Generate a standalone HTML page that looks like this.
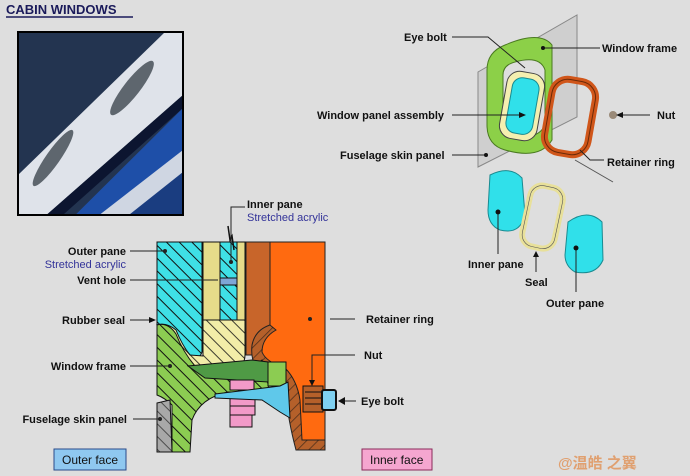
<!DOCTYPE html>
<html><head><meta charset="utf-8"><style>
body{margin:0;background:#dedede;}
svg{display:block}
text{font-family:"Liberation Sans",Arial,sans-serif;font-size:11px;font-weight:bold;fill:#111;}
.b{fill:#333399;font-weight:normal}
</style></head><body>
<svg width="690" height="476" viewBox="0 0 690 476" xmlns="http://www.w3.org/2000/svg">
<defs>
<pattern id="h" width="9" height="9" patternUnits="userSpaceOnUse" patternTransform="rotate(-45)"><line x1="0" y1="0" x2="0" y2="9" stroke="#111" stroke-width="2"/></pattern>
<pattern id="h2" width="8" height="8" patternUnits="userSpaceOnUse" patternTransform="rotate(45)"><line x1="0" y1="0" x2="0" y2="8" stroke="#111" stroke-width="1.6"/></pattern>
<clipPath id="ph"><rect x="18" y="32" width="165" height="183"/></clipPath>
</defs>
<rect width="690" height="476" fill="#dedede"/>
<text x="6" y="14" style="font-size:13px;fill:#1a1a5a">CABIN WINDOWS</text>
<line x1="6" y1="17" x2="133" y2="17" stroke="#1a1a5a" stroke-width="1.5"/>
<!-- photo -->
<g clip-path="url(#ph)">
<rect x="18" y="32" width="165" height="183" fill="#233450"/>
<polygon points="18,175 165,32 183,32 183,95 18,240" fill="#dfe3ea"/>
<polygon points="18,240 183,95 183,108 18,255" fill="#0c1530"/>
<polygon points="30,260 183,108 183,150 60,260" fill="#1e4fa8"/>
<polygon points="80,230 183,150 183,172 120,230" fill="#cfd6e2"/>
<polygon points="110,230 183,172 183,230" fill="#1a3d80"/>
<ellipse cx="132" cy="88" rx="34" ry="8" transform="rotate(-52 132 88)" fill="#5e666e"/>
<ellipse cx="53" cy="158" rx="34" ry="7" transform="rotate(-55 53 158)" fill="#5e666e"/>
</g>
<rect x="18" y="32" width="165" height="183" fill="none" stroke="#000" stroke-width="2"/>

<!-- cross section -->
<path d="M246,242 L270,242 L270,330 L262,330 Q252,335 252,355 L246,355Z" fill="#c8652a" stroke="#222"/>
<path d="M270,242 L325,242 L325,447 L300,445 Q292,410 292,390 Q285,370 265,365 Q252,355 262,335 Q268,325 270,325Z" fill="#ff6a10" stroke="#222"/>
<path d="M252,345 Q255,330 270,325 L276,330 Q262,338 262,352 Q266,362 285,368 Q297,380 300,400 L302,440 L325,440 L325,450 L296,450 Q288,420 286,395 Q280,378 262,372 Q250,365 252,345Z" fill="#b5602a" stroke="#222"/>
<path d="M252,345 Q255,330 270,325 L276,330 Q262,338 262,352 Q266,362 285,368 Q297,380 300,400 L302,440 L325,440 L325,450 L296,450 Q288,420 286,395 Q280,378 262,372 Q250,365 252,345Z" fill="url(#h2)" opacity="0.6"/>
<path d="M157,242 L202,242 L202,352 Q200,358 195,358 L185,358 Q175,358 172,348 L157,340Z" fill="#3fe0e6" stroke="#111"/>
<path d="M157,242 L202,242 L202,352 Q200,358 195,358 L185,358 Q175,358 172,348 L157,340Z" fill="url(#h)"/>
<rect x="203" y="242" width="17" height="78" fill="#e6dc8a" stroke="#111"/>
<path d="M220,242 L237,242 L237,350 Q237,356 230,356 Q220,356 220,350Z" fill="#3fe0e6" stroke="#111"/>
<path d="M220,242 L237,242 L237,350 Q237,356 230,356 Q220,356 220,350Z" fill="url(#h)"/>
<rect x="220" y="278" width="17" height="7" fill="#7fa6d6" stroke="#111"/>
<rect x="237" y="242" width="8" height="110" fill="#e6dc8a" stroke="#111"/>
<path d="M203,320 L245,320 L245,355 Q245,368 230,370 L190,370 Q176,366 170,345 Q162,330 157,325 Q166,322 176,330 Q182,345 190,355 L203,356Z" fill="#f2eda8" stroke="#111"/>
<path d="M203,320 L245,320 L245,355 Q245,368 230,370 L190,370 Q176,366 170,345 Q162,330 157,325 Q166,322 176,330 Q182,345 190,355 L203,356Z" fill="url(#h)" opacity="0.8"/>
<path d="M157,325 Q168,322 176,334 Q183,352 195,366 L250,368 L262,360 L270,392 L228,392 Q200,398 192,420 L190,452 L172,452 L172,405 Q165,398 157,395Z" fill="#8ccc52" stroke="#111"/>
<path d="M157,325 Q168,322 176,334 Q183,352 195,366 L250,368 L262,360 L270,392 L228,392 Q200,398 192,420 L190,452 L172,452 L172,405 Q165,398 157,395Z" fill="url(#h)"/>
<path d="M188,366 L252,360 L268,362 L268,382 L205,378Z" fill="#4f9a45" stroke="#111"/>
<rect x="268" y="362" width="18" height="24" fill="#8ccc52" stroke="#111"/>
<path d="M157,403 L170,400 L172,452 L157,452Z" fill="#a8a8a8" stroke="#111"/>
<path d="M157,403 L170,400 L172,452 L157,452Z" fill="url(#h)" opacity="0.6"/>
<rect x="230" y="380" width="24" height="10" fill="#f29ac8" stroke="#111"/>
<rect x="230" y="398" width="25" height="8" fill="#f29ac8" stroke="#111"/>
<rect x="230" y="406" width="25" height="9" fill="#f29ac8" stroke="#111"/>
<rect x="230" y="415" width="22" height="12" fill="#f29ac8" stroke="#111"/>
<path d="M215,394 L280,386 L288,382 L290,418 L280,412 L262,400 L215,398Z" fill="#5fc8ea" stroke="#111"/>
<rect x="303" y="386" width="20" height="26" fill="#b5602a" stroke="#111"/>
<g stroke="#111"><line x1="305" y1="392" x2="321" y2="392"/><line x1="305" y1="398" x2="321" y2="398"/><line x1="305" y1="404" x2="321" y2="404"/></g>
<rect x="322" y="390" width="14" height="20" rx="2" fill="#7fd0f0" stroke="#111" stroke-width="2"/>
<polyline points="228,226 230,240 232,236 234,250" fill="none" stroke="#111" stroke-width="1.5"/>

<!-- left labels -->
<g stroke="#222" stroke-width="1" fill="none">
<line x1="130" y1="251" x2="165" y2="251"/><line x1="130" y1="280" x2="218" y2="280"/>
<line x1="130" y1="320" x2="150" y2="320"/><line x1="130" y1="366" x2="170" y2="366"/>
<line x1="133" y1="419" x2="160" y2="419"/><polyline points="245,207 231,207 231,262"/>
<line x1="330" y1="319" x2="355" y2="319"/><polyline points="355,355 312,355 312,382"/>
<line x1="342" y1="401" x2="356" y2="401"/>
</g>
<g fill="#111"><polygon points="156,320 149,317 149,323"/><polygon points="312,386 309,380 315,380"/><polygon points="338,401 345,397 345,405"/></g>
<g fill="#222"><circle cx="165" cy="251" r="2"/><circle cx="231" cy="262" r="2"/><circle cx="170" cy="366" r="2"/><circle cx="160" cy="419" r="2"/><circle cx="310" cy="319" r="2"/></g>
<text x="247" y="208">Inner pane</text><text x="247" y="221" class="b">Stretched acrylic</text>
<text x="126" y="255" text-anchor="end">Outer pane</text><text x="126" y="268" text-anchor="end" class="b">Stretched acrylic</text>
<text x="126" y="284" text-anchor="end">Vent hole</text>
<text x="125" y="324" text-anchor="end">Rubber seal</text>
<text x="126" y="370" text-anchor="end">Window frame</text>
<text x="127" y="423" text-anchor="end">Fuselage skin panel</text>
<text x="366" y="323">Retainer ring</text><text x="364" y="359">Nut</text><text x="361" y="405">Eye bolt</text>
<rect x="54" y="449" width="72" height="21" fill="#8fc8f0" stroke="#2a4a8a"/><text x="62" y="464" style="font-weight:normal;font-size:12px">Outer face</text>
<rect x="362" y="449" width="70" height="21" fill="#f5a6d0" stroke="#8a2a5a"/><text x="370" y="464" style="font-weight:normal;font-size:12px">Inner face</text>
<text x="558" y="468" style="font-size:15px;fill:#e0a070;font-weight:bold;font-family:'Liberation Sans','Noto Sans CJK SC',sans-serif">@温皓 之翼</text>

<!-- exploded view -->
<polygon points="478,72 577,15 577,117 478,167" fill="#cfcfcf" stroke="#888"/>
<path d="M505,45 Q540,30 552,45 L552,140 Q540,160 505,150 Q487,145 487,125 L487,70 Q487,52 505,45Z" fill="#8cd048" stroke="#4a7a20"/>
<path d="M515,62 Q540,55 545,70 L545,125 Q538,140 515,135 Q503,130 503,118 L503,75 Q503,65 515,62Z" fill="#dedede" stroke="#4a7a20"/>
<rect x="503" y="72" width="38" height="68" rx="13" transform="rotate(10 522 106)" fill="#f4efb0" stroke="#444"/>
<rect x="509" y="78" width="27" height="56" rx="10" transform="rotate(10 522 106)" fill="#30e0ea" stroke="#1a8a90"/>
<rect x="548" y="80" width="44" height="74" rx="16" transform="rotate(10 570 117)" fill="none" stroke="#d0561a" stroke-width="7"/>
<rect x="548" y="80" width="44" height="74" rx="16" transform="rotate(10 570 117)" fill="none" stroke="#6a2a08" stroke-width="1"/>
<circle cx="613" cy="115" r="4" fill="#9a8a78"/>
<line x1="575" y1="160" x2="613" y2="182" stroke="#555"/>
<path d="M490,175 Q510,165 522,178 L525,215 Q520,235 500,230 Q488,225 488,210Z" fill="#30e0ea" stroke="#1a8a90"/>
<rect x="526" y="186" width="33" height="62" rx="12" transform="rotate(12 542 217)" fill="none" stroke="#e8e09a" stroke-width="6"/>
<rect x="526" y="186" width="33" height="62" rx="12" transform="rotate(12 542 217)" fill="none" stroke="#555" stroke-width="0.6"/>
<path d="M568,222 Q588,208 602,222 L603,260 Q596,276 575,272 Q565,266 565,255Z" fill="#30e0ea" stroke="#1a8a90"/>
<g stroke="#222" fill="none">
<polyline points="452,37 488,37 525,68"/><line x1="543" y1="48" x2="600" y2="48"/>
<line x1="452" y1="115" x2="522" y2="115"/><line x1="620" y1="115" x2="650" y2="115"/>
<line x1="452" y1="155" x2="486" y2="155"/><polyline points="580,150 590,160 604,160"/>
<line x1="498" y1="212" x2="498" y2="254"/><line x1="536" y1="252" x2="536" y2="272"/><line x1="576" y1="248" x2="576" y2="292"/>
</g>
<g fill="#111"><circle cx="543" cy="48" r="2"/><circle cx="486" cy="155" r="2"/><circle cx="498" cy="212" r="2.5"/><circle cx="576" cy="248" r="2.5"/>
<polygon points="526,115 519,112 519,118"/><polygon points="616,115 623,112 623,118"/><polygon points="536,251 533,257 539,257"/></g>
<text x="404" y="41">Eye bolt</text><text x="602" y="52">Window frame</text>
<text x="317" y="119">Window panel assembly</text><text x="657" y="119">Nut</text>
<text x="340" y="159">Fuselage skin panel</text><text x="607" y="166">Retainer ring</text>
<text x="468" y="268">Inner pane</text><text x="525" y="286">Seal</text><text x="546" y="307">Outer pane</text>
</svg>
</body></html>
